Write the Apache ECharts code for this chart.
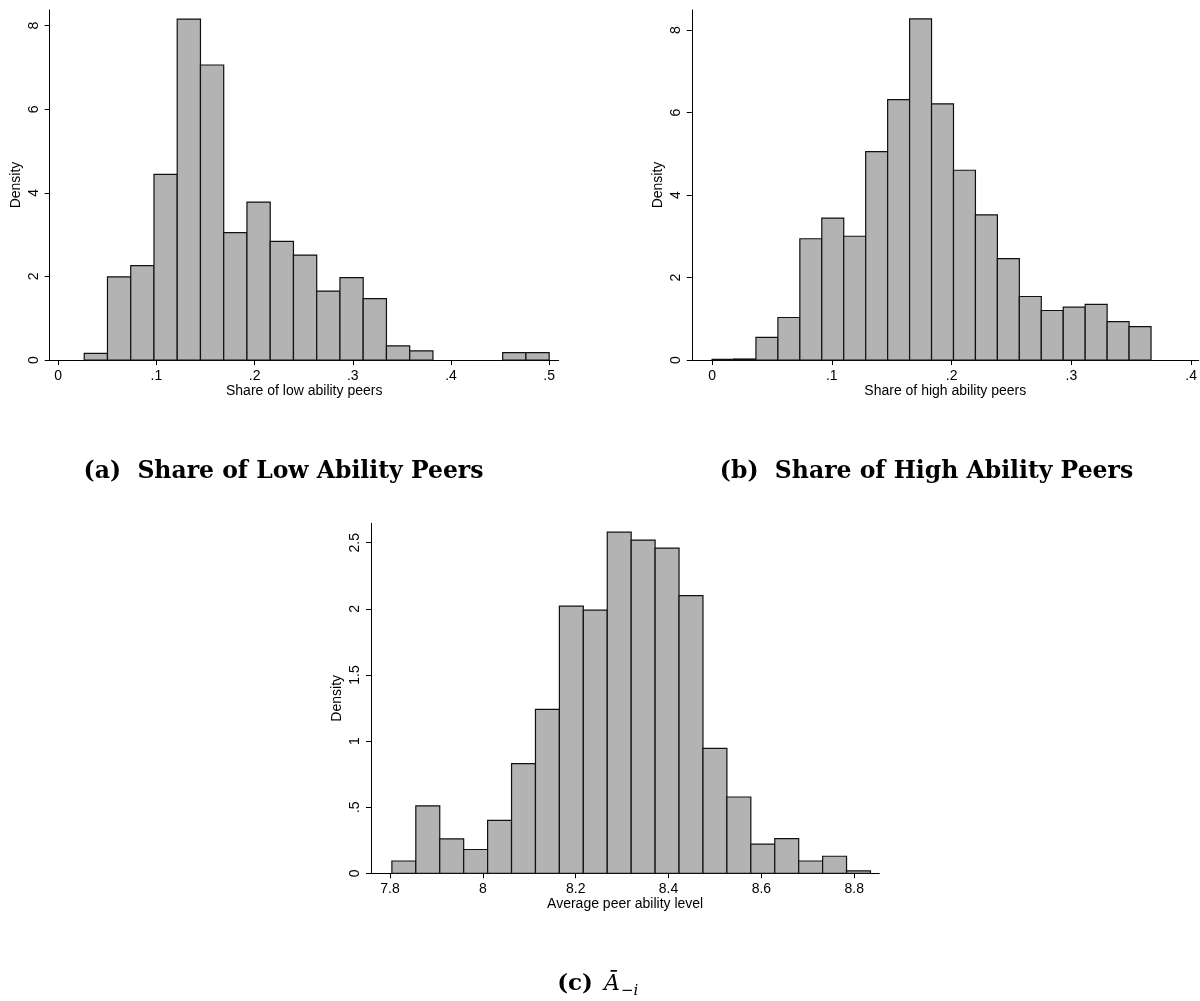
<!DOCTYPE html>
<html><head><meta charset="utf-8">
<script src="https://cdn.jsdelivr.net/npm/echarts@6/dist/echarts.min.js"></script>
<style>html,body{margin:0;padding:0;background:#fff}#c{width:1200px;height:1001px}</style>
</head><body><div id="c"></div>
<script>
// ---- data ----
const densityLow  = [0.16,1.99,2.26,4.44,8.16,7.06,3.05,3.78,2.84,2.51,1.65,1.97,1.47,0.34,0.22,0,0,0,0.175,0.175];
const binRangeLow = [0.0265, 0.5];
const densityHigh = [0.016,0.024,0.55,1.03,2.94,3.44,3.00,5.05,6.31,8.27,6.21,4.60,3.52,2.46,1.54,1.20,1.28,1.35,0.93,0.81];
const binRangeHigh = [0, 0.3665];
const densityAvg  = [0.093,0.51,0.26,0.18,0.40,0.83,1.24,2.02,1.99,2.58,2.52,2.46,2.10,0.945,0.577,0.22,0.262,0.093,0.129,0.018];
const binRangeAvg = [7.804, 8.835];
const xTicksLow  = [0,0.1,0.2,0.3,0.4,0.5];
const yTicksLow  = [0,2,4,6,8];
const xTicksHigh = [0,0.1,0.2,0.3,0.4];
const yTicksHigh = [0,2,4,6,8];
const xTicksAvg  = [7.8,8,8.2,8.4,8.6,8.8];
const yTicksAvg  = [0,0.5,1,1.5,2,2.5];
const xTitles = ['Share of low ability peers','Share of high ability peers','Average peer ability level'];
const yTitle = 'Density';
const captionA = '(a)  Share of Low Ability Peers';
const captionB = '(b)  Share of High Ability Peers';
const captionCLabel = '(c)';
const captionCSym = 'Ā';
const captionCSub = '−i';

// ---- helpers ----
function bins(heights, range){
  const n = heights.length, w = (range[1]-range[0])/n;
  return heights.map((h,i)=>[range[0]+i*w, range[0]+(i+1)*w, h]);
}
function fmt(v){
  let s = String(Number(v.toFixed(4)));
  return s.replace(/^0\./,'.');
}
const FONT = 'Liberation Sans, Arial, sans-serif';
const TXT = '#000';
function xAx(idx, min, max, ticks, name){
  return {type:'value', gridIndex:idx, min:min, max:max,
    name:name, nameLocation:'middle', nameGap:23,
    nameTextStyle:{fontFamily:FONT, fontSize:14, color:TXT},
    axisLine:{show:true, onZero:false, lineStyle:{color:'#000', width:1}},
    axisTick:{show:true, length:5, customValues:ticks, lineStyle:{color:'#000', width:1}},
    axisLabel:{show:true, customValues:ticks, formatter:fmt, margin:9, fontFamily:FONT, fontSize:14, color:TXT},
    splitLine:{show:false}};
}
function yAx(idx, max, ticks){
  return {type:'value', gridIndex:idx, min:0, max:max,
    name:yTitle, nameLocation:'middle', nameGap:27, nameRotate:90,
    nameTextStyle:{fontFamily:FONT, fontSize:14, color:TXT},
    axisLine:{show:true, onZero:false, lineStyle:{color:'#000', width:1}},
    axisTick:{show:true, length:5, customValues:ticks, lineStyle:{color:'#000', width:1}},
    axisLabel:{show:true, customValues:ticks, formatter:fmt, rotate:90, margin:9, fontFamily:FONT, fontSize:14, color:TXT},
    splitLine:{show:false}};
}
function hist(idx, data){
  return {type:'custom', xAxisIndex:idx, yAxisIndex:idx, data:data, clip:false,
    renderItem:function(params, api){
      const lo = api.value(0), hi = api.value(1), h = api.value(2);
      if (h <= 0) return null;
      const p0 = api.coord([lo, h]), p1 = api.coord([hi, 0]);
      return {type:'rect', shape:{x:p0[0], y:p0[1], width:p1[0]-p0[0], height:p1[1]-p0[1]},
        style:{fill:'#b3b3b3', stroke:'#111', lineWidth:1.2}};
    }};
}

const chart = echarts.init(document.getElementById('c'), null, {renderer:'canvas'});
const SERIF = 'DejaVu Serif, serif';
chart.setOption({
  animation:false,
  backgroundColor:'#fff',
  grid:[
    {left:49.7, top:10, width:509, height:350},
    {left:691.8, top:10, width:508.2, height:350},
    {left:371, top:523.3, width:508.3, height:350}
  ],
  xAxis:[
    xAx(0, -0.00866, 0.5097, xTicksLow, xTitles[0]),
    xAx(1, -0.0169, 0.4063, xTicksHigh, xTitles[1]),
    xAx(2, 7.759, 8.854, xTicksAvg, xTitles[2])
  ],
  yAxis:[
    yAx(0, 8.376, yTicksLow),
    yAx(1, 8.485, yTicksHigh),
    yAx(2, 2.647, yTicksAvg)
  ],
  series:[
    hist(0, bins(densityLow, binRangeLow)),
    hist(1, bins(densityHigh, binRangeHigh)),
    hist(2, bins(densityAvg, binRangeAvg))
  ],
  graphic:[
    {type:'text', x:283.5, y:472, style:{text:captionA, font:'bold 23.5px '+SERIF, fill:'#000', align:'center', verticalAlign:'middle'}},
    {type:'text', x:926.5, y:472, style:{text:captionB, font:'bold 23.5px '+SERIF, fill:'#000', align:'center', verticalAlign:'middle'}},
    {type:'text', x:593, y:984, style:{text:captionCLabel, font:'bold 23px '+SERIF, fill:'#000', align:'right', verticalAlign:'middle'}},
    {type:'text', x:604, y:984, style:{text:captionCSym, font:'italic 22px '+SERIF, fill:'#000', align:'left', verticalAlign:'middle'}},
    {type:'text', x:621, y:991, style:{text:captionCSub, font:'italic 15px '+SERIF, fill:'#000', align:'left', verticalAlign:'middle'}}
  ]
});
</script>
</body></html>
